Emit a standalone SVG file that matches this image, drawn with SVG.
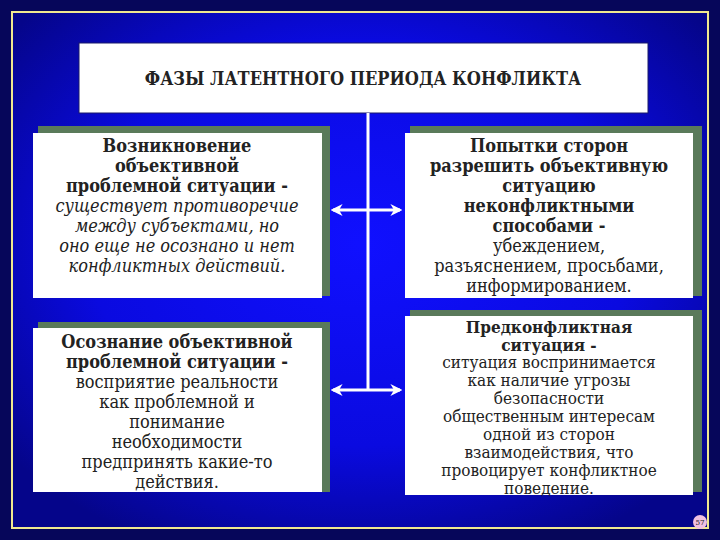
<svg xmlns="http://www.w3.org/2000/svg" width="720" height="540" viewBox="0 0 720 540">
<defs>
<radialGradient id="bg" cx="50%" cy="45%" r="65%"><stop offset="0" stop-color="#1010ff"/><stop offset="0.6" stop-color="#0a0ae0"/><stop offset="1" stop-color="#05058a"/></radialGradient>
<marker id="ah" viewBox="0 0 10 10" refX="8" refY="5" markerWidth="4" markerHeight="4" orient="auto-start-reverse"><path d="M0,0 L10,5 L0,10 L3,5 Z" fill="#fff"/></marker>
</defs>
<style>
.sh{fill:#5a7a5a}
.bx{fill:#fff}
text{font-family:"DejaVu Serif Condensed","DejaVu Serif","Liberation Serif",serif;font-stretch:condensed;fill:#222;text-anchor:middle;font-size:18px}
.b{font-weight:bold}
.i{font-style:italic}
.s{font-size:17px}
.c{stroke:#fff;stroke-width:3;fill:none}
</style>
<rect width="720" height="540" fill="#06065a"/>
<rect x="12" y="12" width="696" height="516" fill="url(#bg)" stroke="#f0e890" stroke-width="2"/>
<g id="title"><rect x="79" y="43" width="569" height="70" fill="#fff" stroke="#1a1a6a"/>
<text x="363" y="85" class="b">ФАЗЫ ЛАТЕНТНОГО ПЕРИОДА КОНФЛИКТА</text></g>
<g id="connectors">
<line class="c" x1="368" y1="113" x2="368" y2="390"/>
<line class="c" x1="333" y1="210" x2="400" y2="210" marker-start="url(#ah)" marker-end="url(#ah)"/>
<line class="c" x1="333" y1="390" x2="400" y2="390" marker-start="url(#ah)" marker-end="url(#ah)"/>
</g>
<g id="n1"><rect class="sh" x="38" y="126" width="292" height="170"/><rect class="bx" x="33" y="133" width="289" height="165"/>
<text class="b" y="152"><tspan x="177">Возникновение</tspan><tspan x="177" dy="20">объективной</tspan><tspan x="177" dy="20">проблемной ситуации -</tspan></text>
<text class="i" y="212"><tspan x="177">существует противоречие</tspan><tspan x="177" dy="20">между субъектами, но</tspan><tspan x="177" dy="20">оно еще не осознано и нет</tspan><tspan x="177" dy="20">конфликтных действий.</tspan></text></g>
<g id="n2"><rect class="sh" x="410" y="126" width="292" height="170"/><rect class="bx" x="405" y="133" width="288" height="165"/>
<text class="b" y="152"><tspan x="549">Попытки сторон</tspan><tspan x="549" dy="20">разрешить объективную</tspan><tspan x="549" dy="20">ситуацию</tspan><tspan x="549" dy="20">неконфликтными</tspan><tspan x="549" dy="20">способами -</tspan></text>
<text y="252"><tspan x="549">убеждением,</tspan><tspan x="549" dy="20">разъяснением, просьбами,</tspan><tspan x="549" dy="20">информированием.</tspan></text></g>
<g id="n3"><rect class="sh" x="38" y="322" width="292" height="170"/><rect class="bx" x="33" y="328" width="289" height="164"/>
<text class="b" y="348"><tspan x="177">Осознание объективной</tspan><tspan x="177" dy="20">проблемной ситуации -</tspan></text>
<text y="388"><tspan x="177">восприятие реальности</tspan><tspan x="177" dy="20">как проблемной и</tspan><tspan x="177" dy="20">понимание</tspan><tspan x="177" dy="20">необходимости</tspan><tspan x="177" dy="20">предпринять какие-то</tspan><tspan x="177" dy="20">действия.</tspan></text></g>
<g id="n4"><rect class="sh" x="410" y="310" width="292" height="182"/><rect class="bx" x="405" y="316" width="288" height="179"/>
<text class="b s" y="333"><tspan x="549">Предконфликтная</tspan><tspan x="549" dy="18">ситуация -</tspan></text>
<text class="s" y="368"><tspan x="549">ситуация  воспринимается</tspan><tspan x="549" dy="18">как наличие угрозы</tspan><tspan x="549" dy="18">безопасности</tspan><tspan x="549" dy="18">общественным интересам</tspan><tspan x="549" dy="18">одной из сторон</tspan><tspan x="549" dy="18">взаимодействия,  что</tspan><tspan x="549" dy="18">провоцирует конфликтное</tspan><tspan x="549" dy="18">поведение.</tspan></text></g>
<g id="page"><circle cx="700" cy="522" r="7" fill="#f0c0e0"/><text x="700" y="525" style="font-size:8px">57</text></g>
</svg>
